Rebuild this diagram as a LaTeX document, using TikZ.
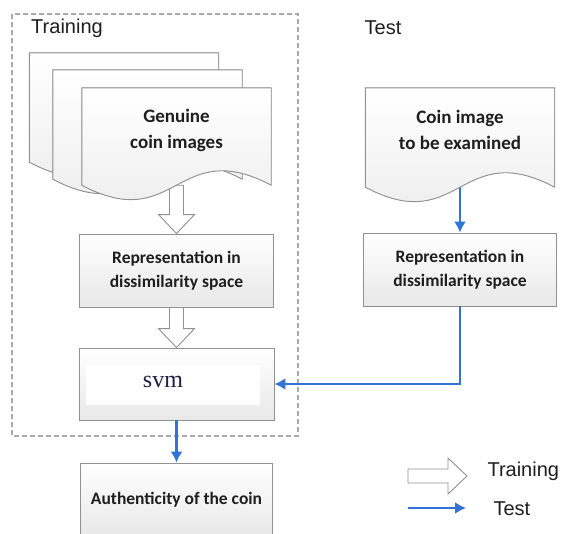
\documentclass[tikz,border=0pt]{standalone}
\usepackage{fontspec}
\setmainfont{Carlito}
\newfontfamily\arialfont{Liberation Sans}
\newfontfamily\timesfont{Liberation Serif}
\usetikzlibrary{arrows.meta,positioning,calc,backgrounds}

\definecolor{testblue}{RGB}{50,115,215}
\definecolor{boxline}{RGB}{145,145,145}
\definecolor{dashline}{RGB}{170,170,170}
\definecolor{inktext}{RGB}{30,30,30}
\definecolor{svmink}{RGB}{30,30,70}

\tikzset{
	procbox/.style={draw=boxline, line width=0.9pt, top color=white, bottom color=black!9, text=inktext, align=center, font=\bfseries\fontsize{17.5}{24}\selectfont, inner sep=0pt},
	docframe/.style={inner sep=0pt, minimum width=189pt},
	docline/.style={draw=boxline, line width=0.9pt, top color=white, bottom color=black!8},
	doctext/.style={text=inktext, align=center, font=\bfseries\fontsize{19}{26}\selectfont},
	title/.style={text=inktext, font=\arialfont\fontsize{20}{22}\selectfont},
	testflow/.style={draw=testblue, line width=2.5pt, -{Latex[length=11pt,width=12pt]}},
	hollowarr/.style={draw=boxline, line width=0.9pt, fill=white},
}

% wavy document outline round a docframe node
\newcommand\docoutline[1]{%
	\filldraw[docline] (#1.south west) -- (#1.north west) -- (#1.north east) -- (#1.south east)
	.. controls ($(#1.south)+(0,-50)$) and ($(#1.south)+(0,50)$) .. (#1.south west) -- cycle;}

% hollow (training) arrow between two points
\newcommand\hollowarrow[2]{%
	\filldraw[hollowarr] let \p1=(#1), \p2=(#2), \n1={veclen(\x2-\x1,\y2-\y1)}, \n2={atan2(\y2-\y1,\x2-\x1)} in
	[shift={(\p1)}, rotate=\n2] (0pt,7pt) -- (\n1-19pt,7pt) -- (\n1-19pt,18pt) -- (\n1,0pt)
	-- (\n1-19pt,-18pt) -- (\n1-19pt,-7pt) -- (0pt,-7pt) -- cycle;}

\begin{document}
\begin{tikzpicture}[x=1pt,y=-1pt]
	\useasboundingbox (0,0) rectangle (564,533);
	
	\draw[dashline, dash pattern=on 5pt off 3pt, line width=1.2pt] (12,14) rectangle (298,436);
	\node[title] (trainttl) at (67,28) {Training};
	\node[title] (testttl) at (383,28) {Test};
	
	% documents
	\node[docframe, minimum height=109pt] (genback) at (124,107.5) {};
	\node[docframe, minimum height=109pt] (genmid) at (147.5,124.5) {};
	\node[docframe, minimum height=97pt] (gen) at (176.5,136.5) {};
	\node[docframe, minimum height=99pt] (testdoc) at (460,137.5) {};
	
	% boxes
	\node[procbox, minimum width=194pt, minimum height=73pt] (genrep) at (176.5,270.5) {Representation in\\dissimilarity space};
	\node[procbox, minimum width=193pt, minimum height=73pt] (testrep) at (460,269.5) {Representation in\\dissimilarity space};
	\node[procbox, minimum width=195pt, minimum height=72pt] (svm) at (176.5,384) {};
	\node[fill=white, minimum width=174pt, minimum height=40pt, inner sep=0pt] (svmimg) at (173,385) {};
	\node[font=\timesfont\fontsize{24}{24}\selectfont, text=svmink] (svmtxt) at (163,382) {svm};
	\node[procbox, minimum width=192pt, minimum height=74pt] (auth) at (176.5,500) {Authenticity of the coin};
	
	\docoutline{genback}
	\docoutline{genmid}
	\docoutline{gen}
	\docoutline{testdoc}
	\node[doctext] (genlbl) at ([yshift=6.5pt]gen.center) {Genuine\\coin images};
	\node[doctext] (testlbl) at ([yshift=7.5pt]testdoc.center) {Coin image\\to be examined};
	
	% connectors
	\begin{scope}[on background layer]
		\hollowarrow{gen.south}{genrep.north}
		\draw[testflow] (testdoc.south) -- (testrep.north);
	\end{scope}
	\hollowarrow{genrep.south}{svm.north}
	\draw[testflow] (testrep.south) |- (svm.east);
	\draw[testflow] (svm.south) -- (auth.north);
	
	% legend
	\coordinate (legtrain) at (408,476);
	\coordinate (legtrainend) at (467,476);
	\hollowarrow{legtrain}{legtrainend}
	\node[title, anchor=west] (legtraintxt) at (484,471) {Training};
	\coordinate (legtest) at (408,508);
	\coordinate (legtestend) at (466,508);
	\draw[testflow] (legtest) -- (legtestend);
	\node[title, anchor=west] (legtesttxt) at (490,509) {Test};
\end{tikzpicture}
\end{document}
